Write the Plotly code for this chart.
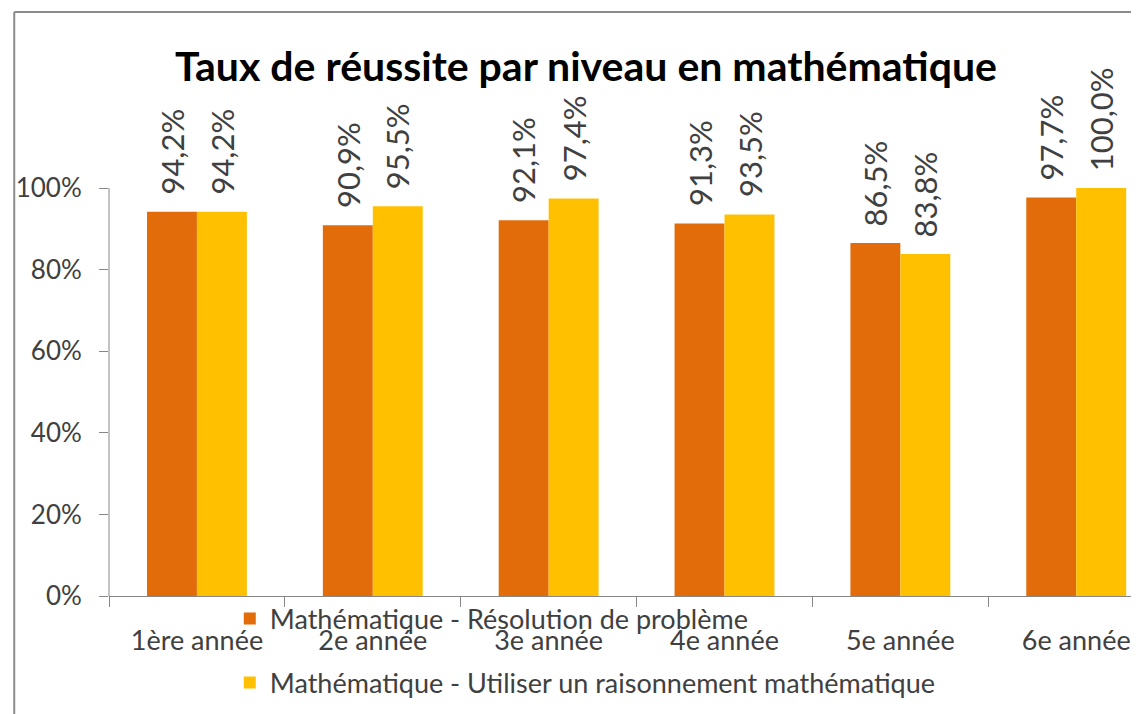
import plotly.graph_objects as go

categories = ["1ère année", "2e année", "3e année", "4e année", "5e année", "6e année"]
series_names = ["Mathématique - Résolution de problème",
                "Mathématique - Utiliser un raisonnement mathématique"]
resolution = [94.2, 90.9, 92.1, 91.3, 86.5, 97.7]
raisonnement = [94.2, 95.5, 97.4, 93.5, 83.8, 100.0]
y_ticks = [0, 20, 40, 60, 80, 100]
y_tick_labels = ["0%", "20%", "40%", "60%", "80%", "100%"]
colors = ["#E36C0A", "#FFC000"]

FONT = "Lato, Liberation Sans, sans-serif"
TXT = "#404040"
GRAY = "#868686"

fig = go.Figure()
for i, (name, vals) in enumerate(zip(series_names, [resolution, raisonnement])):
    fig.add_trace(go.Bar(
        x=categories, y=vals, name=name, marker_color=colors[i],
        marker_line_width=0, legendgroup=f"g{i}",
    ))

annotations = []
for vals, shift in [(resolution, -25), (raisonnement, 25)]:
    for c, v in zip(categories, vals):
        annotations.append(dict(
            x=c, y=v, xref="x", yref="y", text=f"{v:.1f}%".replace(".", ","),
            textangle=-90, showarrow=False, xanchor="center", yanchor="bottom",
            xshift=shift, yshift=15, font=dict(family=FONT, size=31, color=TXT),
        ))

shapes = [
    # y axis line from 0 to 100%
    dict(type="line", xref="paper", yref="y", x0=0, x1=0, y0=0, y1=100,
         line=dict(color=GRAY, width=1)),
    # outer chart border (left and top)
    dict(type="line", xref="paper", yref="paper", x0=-0.092, x1=-0.092, y0=-0.3, y1=1.0896,
         line=dict(color="#8c8c8c", width=2)),
    dict(type="line", xref="paper", yref="paper", x0=-0.092, x1=1.05, y0=1.0896, y1=1.0896,
         line=dict(color="#8c8c8c", width=2)),
]

fig.update_layout(
    width=1139, height=714,
    margin=dict(l=99, r=8, t=52, b=126),
    paper_bgcolor="white", plot_bgcolor="white",
    barmode="group", bargap=0.432, bargroupgap=0,
    font=dict(family=FONT, color=TXT, size=27),
    title=dict(text="<b>Taux de réussite par niveau en mathématique</b>",
               x=578 / 1139, xref="container", xanchor="center",
               y=1 - 59 / 714, yref="container", yanchor="middle",
               font=dict(family=FONT, size=41, color="#000000")),
    xaxis=dict(range=[-0.5, -0.5 + 1032 / 176.2], showgrid=False, showline=True,
               linecolor=GRAY, linewidth=1, ticks="outside", tickson="boundaries",
               ticklen=10, tickcolor=GRAY, tickfont=dict(size=27, color=TXT),
               ticklabelstandoff=21, zeroline=False),
    yaxis=dict(range=[0, (596 - 60) / 4.08], tickmode="array", tickvals=y_ticks,
               ticktext=y_tick_labels,
               showgrid=False, showline=False, zeroline=False, ticks="outside",
               ticklen=9, tickcolor=GRAY, tickfont=dict(size=26, color=TXT),
               ticklabelstandoff=12),
    legend=dict(x=(228 - 107) / 1032, xanchor="left", y=0.003, yanchor="top",
                bgcolor="rgba(0,0,0,0)", traceorder="grouped", tracegroupgap=26,
                font=dict(size=27, color=TXT)),
    annotations=annotations, shapes=shapes,
)

fig.write_html("out.html")
